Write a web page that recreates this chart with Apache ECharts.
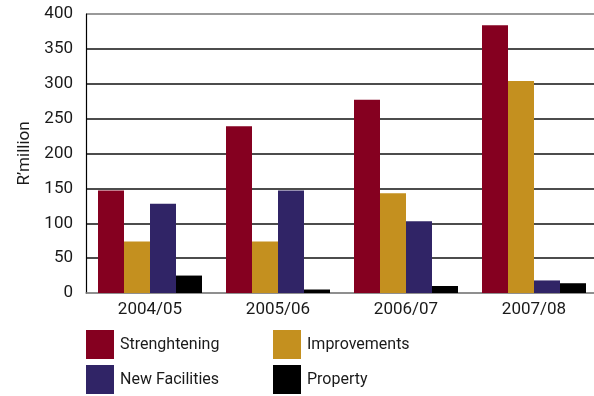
<!DOCTYPE html>
<html>
<head>
<meta charset="utf-8">
<script src="https://cdn.jsdelivr.net/npm/echarts@6/dist/echarts.min.js"></script>
<style>
  html, body { margin: 0; padding: 0; background: #fff; }
  #chart { width: 594px; height: 396px; }
</style>
</head>
<body>
<div id="chart"></div>
<script>
// Capital spending by year, R'million
const years = ['2004/05', '2005/06', '2006/07', '2007/08'];
const strengthening = [147, 239, 277, 384];
const improvements = [74, 74, 143, 304];
const newFacilities = [128, 147, 103, 18];
const property = [25, 5, 10, 14];
const yTicks = [0, 50, 100, 150, 200, 250, 300, 350, 400];

const seriesNames = ['Strenghtening', 'Improvements', 'New Facilities', 'Property'];
const seriesData = [strengthening, improvements, newFacilities, property];
const colors = ['#850020', '#c4901f', '#302466', '#000000'];

const FONT = 'Roboto';

const chart = echarts.init(document.getElementById('chart'), null, { renderer: 'canvas' });

// one legend block per entry, laid out as a 2x2 table under the axis
const legendPos = [
  { left: 86, top: 330 },
  { left: 273, top: 330 },
  { left: 86, top: 365 },
  { left: 273, top: 365 }
];

chart.setOption({
  animation: false,
  color: colors,
  // plot runs slightly past the right edge of the canvas
  grid: { left: 86, top: 14, width: 512, bottom: 103, outerBoundsMode: 'none', containLabel: false },
  legend: seriesNames.map((name, i) => ({
    data: [name],
    left: legendPos[i].left,
    top: legendPos[i].top,
    padding: 0,
    itemWidth: 28,
    itemHeight: 29,
    itemGap: 0,
    icon: 'rect',
    selectedMode: false,
    textStyle: { fontFamily: FONT, fontSize: 16, color: '#1a1a1a', padding: [0, 0, 0, 1] }
  })),
  xAxis: {
    type: 'category',
    data: years,
    axisLine: { show: true, lineStyle: { color: '#888', width: 1.5 } },
    axisTick: { show: false },
    axisLabel: { fontFamily: FONT, fontSize: 17, color: '#1a1a1a', margin: 8 }
  },
  yAxis: {
    type: 'value',
    min: yTicks[0],
    max: yTicks[yTicks.length - 1],
    interval: yTicks[1] - yTicks[0],
    name: 'R\u2019million',
    nameLocation: 'middle',
    nameGap: 52,
    nameTextStyle: { fontFamily: FONT, fontSize: 17, color: '#1a1a1a' },
    axisLine: { show: true, lineStyle: { color: '#000', width: 1.2 } },
    axisTick: { show: false },
    axisLabel: { fontFamily: FONT, fontSize: 17, color: '#1a1a1a', margin: 13 },
    splitLine: {
      show: true,
      lineStyle: {
        color: ['#888', '#111', '#111', '#111', '#111', '#111', '#111', '#111', '#777'],
        width: 1.6
      }
    }
  },
  series: seriesNames.map((name, i) => ({
    name: name,
    type: 'bar',
    data: seriesData[i],
    barWidth: 26,
    barGap: '0%',
    itemStyle: { color: colors[i] }
  }))
});
</script>
</body>
</html>
